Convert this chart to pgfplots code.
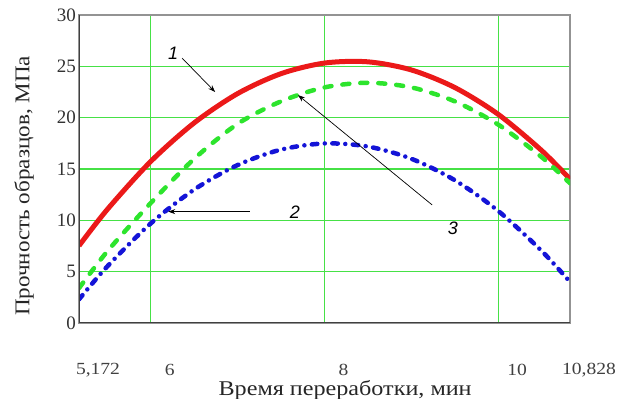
\documentclass[border=0pt]{standalone}
\usepackage{pgfplots}
\pgfplotsset{compat=1.18}
\usepackage{fontspec}
\setmainfont{Liberation Serif}
\newfontfamily\arialfont{Liberation Sans}
\usetikzlibrary{arrows.meta}
\definecolor{cred}{RGB}{235,25,25}
\definecolor{cgreen}{RGB}{45,228,45}
\definecolor{cblue}{RGB}{20,20,215}
\definecolor{gridgreen}{RGB}{70,225,70}
\begin{document}
\begin{tikzpicture}
\path[use as bounding box] (0,0) rectangle (617bp,399bp);
\begin{axis}[
  at={(79bp,76bp)}, anchor=south west,
  width=491bp, height=308bp, scale only axis,
  xmin=5.172, xmax=10.828, ymin=0, ymax=30,
  xtick={5.172,6,8,10,10.828},
  xticklabels={{\scalebox{1.15}[1]{5,172}},\scalebox{1.15}[1]{6},\scalebox{1.15}[1]{8},\scalebox{1.15}[1]{10},{\scalebox{1.15}[1]{10,828}}},
  ytick={0,5,10,15,20,25,30},
  /pgf/number format/assume math mode=true,
  tick style={draw=none},
  grid=major,
  major grid style={draw=gridgreen, line width=1.2bp},
  axis line style={draw=gray!85, line width=1.6bp},
  xticklabel style={anchor=center, inner sep=0pt, yshift=-47bp, xshift=19bp, font=\fontsize{17bp}{20bp}\selectfont, text=black!75},
  yticklabel style={anchor=east, inner sep=1bp, xshift=-2bp, font=\fontsize{19bp}{22bp}\selectfont, text=black!80},
  xlabel={\scalebox{1.15}[1]{Время переработки, мин}},
  ylabel={\scalebox{1.1}[1]{Прочность образцов, МПа}},
  xlabel style={at={(axis description cs:0.542,0)}, anchor=center, inner sep=0pt, yshift=-67bp, font=\fontsize{21bp}{24bp}\selectfont, text=black!85},
  ylabel style={at={(axis description cs:0,0.445)}, anchor=center, yshift=55bp, font=\fontsize{21bp}{24bp}\selectfont, text=black!85},
]
% curve 1 (red, solid)
\addplot[cred, line width=5bp, smooth] coordinates {
 (5.172,7.52) (5.5,11.08) (6,15.75) (6.5,19.50) (7,22.35) (7.5,24.29) (8,25.32)
 (8.5,25.44) (9,24.65) (9.5,22.94) (10,20.33) (10.5,16.81) (10.828,14.01)};
% curve 3 (green, dashed)
\addplot[cgreen, line width=4.5bp, smooth, line cap=round, dash pattern=on 7bp off 11bp] coordinates {
 (5.172,3.39) (5.5,7.00) (6,11.70) (6.5,16.00) (7,19.40) (7.5,21.59) (8,22.95)
 (8.5,23.40) (9,22.95) (9.5,21.59) (10,19.33) (10.5,16.17) (10.828,13.61)};
% curve 2 (blue, dash-dot)
\addplot[cblue, line width=4.5bp, smooth, line cap=round, dash pattern=on 5.5bp off 7.5bp on 0bp off 7.5bp] coordinates {
 (5.172,2.30) (5.5,5.53) (6,9.71) (6.5,13.00) (7,15.39) (7.5,16.89) (8,17.49)
 (8.5,17.19) (9,16.00) (9.5,13.91) (10,10.92) (10.5,7.03) (10.828,4.00)};
% darker left and bottom frame
\draw[black!75, line width=1.6bp] (rel axis cs:0,1) -- (rel axis cs:0,0) -- (rel axis cs:1,0);
% annotations
\draw[black, line width=0.7bp, -{Stealth[length=7bp,width=5bp]}] (axis cs:6.36,25.8) -- (axis cs:6.74,22.5);
\node[font=\arialfont\itshape\fontsize{18bp}{20bp}\selectfont] at (axis cs:6.255,26.3) {1};
\draw[black, line width=0.7bp, -{Stealth[length=7bp,width=5bp]}] (axis cs:7.14,10.85) -- (axis cs:6.20,10.85);
\node[font=\arialfont\itshape\fontsize{18bp}{20bp}\selectfont] at (axis cs:7.66,10.8) {2};
\draw[black, line width=0.7bp, -{Stealth[length=7bp,width=5bp]}] (axis cs:9.24,11.5) -- (axis cs:7.695,22.2);
\node[font=\arialfont\itshape\fontsize{18bp}{20bp}\selectfont] at (axis cs:9.48,9.25) {3};
\node[font=\arialfont\fontsize{17bp}{20bp}\selectfont, text=black!80] at (rel axis cs:1.041,0) {I};
\end{axis}
\end{tikzpicture}
\end{document}
